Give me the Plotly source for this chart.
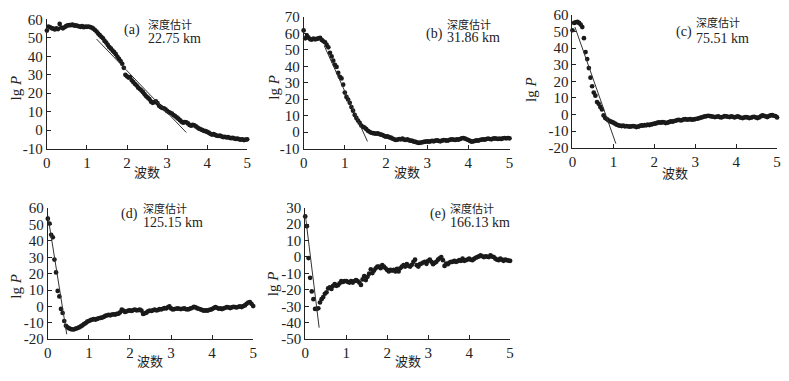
import numpy as np
import plotly.graph_objects as go

# wavenumber grid shared by all panels (step 0.04, 0..5)
wavenumber = np.round(np.arange(126) * 0.04, 2)

# lg P values
lgp_a = [54.0, 56.2, 55.8, 55.3, 55.0, 54.6, 55.2, 54.8, 57.6, 55.6, 55.2, 55.8, 56.4, 56.8, 57.0, 56.9, 57.2, 56.7, 56.8, 56.5, 56.3, 56.0, 56.4, 55.8, 56.1,
         56.0, 56.2, 55.9, 55.6, 55.0, 54.3, 53.5, 52.4, 51.5, 50.6, 49.8, 48.4, 47.5, 46.2, 45.0, 44.2, 43.1, 42.3, 41.2, 39.8, 38.6, 37.5, 36.0, 33.8, 30.0,
         29.2, 28.5, 28.8, 27.0, 26.0, 25.0, 24.2, 23.0, 22.3, 21.5, 20.6, 19.4, 18.3, 17.6, 16.8, 15.4, 14.8, 15.2, 15.6, 14.6, 13.2, 12.6, 12.0, 11.8, 11.2,
         10.4, 9.8, 9.4, 9.0, 8.2, 7.6, 6.9, 6.2, 5.4, 4.6, 4.0, 4.4, 4.2, 3.6, 2.8, 2.4, 2.8, 2.6, 2.0, 1.4, 0.8, 0.4, 0.0, -0.4, -0.6,
         -1.0, -1.4, -2.0, -2.4, -2.2, -2.6, -3.0, -3.2, -3.0, -3.4, -3.8, -3.6, -4.0, -3.8, -4.2, -4.4, -4.2, -4.6, -4.8, -4.6, -5.0, -5.2, -5.0, -5.4, -5.2,
         -5.0]
lgp_b = [61.8, 57.0, 58.6, 57.4, 56.4, 56.2, 56.8, 56.4, 56.6, 56.9, 57.2, 56.0, 55.2, 54.6, 53.0, 51.5, 48.2, 46.0, 43.4, 40.8, 39.6, 36.0, 33.6, 32.6, 28.8,
         24.0, 21.4, 19.8, 17.8, 15.2, 13.0, 10.4, 8.6, 7.0, 5.6, 4.0, 3.2, 2.8, 1.8, 0.8, 0.2, -0.4, -0.6, -0.8, -1.0, -0.8, -1.2, -1.6, -1.8, -2.4,
         -2.8, -2.6, -3.2, -3.4, -4.0, -4.4, -4.8, -4.6, -4.2, -4.4, -4.0, -4.6, -4.8, -4.4, -5.0, -5.2, -5.4, -5.8, -6.0, -6.4, -6.6, -6.4, -6.2, -6.0, -5.8,
         -5.6, -5.8, -5.6, -5.4, -5.6, -5.2, -5.0, -5.4, -5.6, -5.2, -4.8, -5.0, -5.2, -5.0, -4.6, -4.4, -4.6, -4.8, -4.4, -4.6, -4.2, -3.8, -3.6, -4.0, -4.4,
         -4.8, -5.4, -5.8, -5.6, -5.4, -5.0, -5.2, -4.8, -4.6, -4.4, -4.6, -4.2, -4.0, -4.2, -4.4, -4.0, -3.8, -4.0, -4.2, -4.0, -4.2, -3.8, -3.6, -3.8, -3.6,
         -3.8]
lgp_c = [50.8, 55.2, 55.6, 55.8, 55.2, 54.2, 52.7, 46.0, 37.6, 33.4, 28.0, 22.2, 17.0, 13.2, 11.3, 7.5, 6.4, 4.5, 3.0, -0.6, -2.2, -2.8, -3.6, -4.2, -4.5,
         -5.0, -5.6, -6.2, -6.6, -6.8, -7.0, -6.8, -7.2, -7.0, -7.2, -7.4, -7.2, -7.0, -7.2, -7.6, -7.4, -7.0, -6.6, -6.8, -6.4, -6.6, -6.2, -6.4, -6.0, -5.8,
         -5.6, -5.4, -5.0, -4.8, -5.0, -4.6, -4.8, -5.2, -5.0, -4.6, -4.2, -4.4, -4.0, -3.8, -3.4, -3.2, -3.6, -3.4, -3.0, -2.8, -3.2, -3.0, -2.8, -3.2, -3.0,
         -2.8, -2.6, -2.4, -2.0, -1.8, -1.4, -1.2, -1.0, -0.8, -1.0, -1.2, -1.4, -1.6, -1.4, -1.2, -1.6, -1.8, -1.4, -1.0, -1.2, -1.4, -1.6, -1.2, -1.4, -1.8,
         -1.4, -1.2, -1.6, -2.0, -2.2, -1.8, -1.6, -1.8, -2.2, -2.0, -1.6, -1.4, -1.8, -2.2, -1.8, -1.2, -0.6, -0.8, -1.2, -1.6, -1.0, -0.6, -0.4, -0.8, -1.0,
         -1.8]
lgp_d = [53.6, 50.6, 43.8, 42.2, 28.6, 20.8, 9.5, 6.1, -1.5, -4.0, -8.9, -11.8, -12.8, -13.4, -13.8, -14.1, -14.0, -13.6, -13.2, -12.8, -12.2, -11.6, -10.8, -10.2, -9.3,
         -8.9, -8.4, -8.0, -7.8, -8.0, -7.6, -7.2, -7.0, -6.8, -6.4, -5.8, -5.4, -5.2, -5.4, -5.0, -4.8, -5.0, -4.6, -4.4, -3.6, -2.0, -2.6, -3.4, -3.0, -2.6,
         -2.4, -2.8, -2.2, -2.0, -2.4, -2.2, -2.0, -2.6, -4.6, -4.2, -3.8, -3.0, -2.6, -2.8, -2.4, -2.0, -2.4, -2.2, -1.6, -1.8, -1.4, -1.0, -1.2, -0.6, 0.0,
         -1.2, -1.8, -1.6, -1.4, -1.2, -1.4, -1.6, -1.4, -1.2, -1.6, -1.8, -1.6, -1.2, -0.8, -0.2, -0.6, -1.2, -1.4, -1.8, -2.2, -2.6, -2.4, -2.6, -2.2, -2.0,
         -1.6, -1.0, -0.4, -0.8, -1.4, -1.2, -1.6, -1.2, -0.8, -0.4, -0.6, -1.0, -0.6, -0.2, -0.4, -0.6, -0.2, 0.0, -0.4, 0.2, 0.6, 1.6, 2.4, 2.6, 1.6,
         0.2]
lgp_e = [24.6, 18.7, -0.7, -12.7, -21.0, -25.7, -31.6, -31.6, -31.2, -27.7, -25.7, -24.4, -22.4, -21.5, -19.1, -18.5, -19.5, -17.6, -16.6, -17.6, -17.2, -16.0, -14.7, -15.2, -14.7,
         -14.7, -15.2, -15.6, -14.7, -15.6, -14.7, -14.1, -14.7, -15.6, -17.0, -13.7, -11.7, -14.1, -12.1, -10.2, -7.5, -9.8, -8.3, -6.9, -5.9, -5.9, -6.9, -5.0, -5.9, -6.9,
         -7.9, -8.8, -7.9, -8.3, -7.9, -8.8, -7.2, -8.8, -6.9, -5.9, -5.0, -5.9, -4.4, -5.4, -5.9, -4.8, -3.0, -1.7, -5.0, -5.9, -4.4, -4.0, -3.4, -3.0, -4.2,
         -2.4, -1.7, -3.0, -4.4, -3.6, -3.0, -1.7, -0.8, -0.1, -2.0, -5.5, -4.0, -4.4, -3.4, -3.0, -3.0, -2.4, -3.0, -2.6, -2.0, -2.4, -1.1, -2.4, -2.0, -1.6,
         -1.1, -1.7, -2.0, -1.2, -0.5, -0.1, 0.3, 0.9, 0.4, -0.1, 0.3, 0.2, -0.1, 0.9, 0.2, -0.1, -1.1, -1.7, -2.0, -1.1, -1.7, -2.4, -1.7, -2.0, -2.2,
         -2.4]

# fitted straight lines (end points)
fit_x = {'a': [1.24, 3.48], 'b': [0.50, 1.55], 'c': [0.06, 1.06], 'd': [0.0, 0.46], 'e': [0.0, 0.34]}
fit_y = {'a': [49.4, -1.3], 'b': [52.5, -5.7], 'c': [52.7, -17.6], 'd': [55.5, -17.0], 'e': [26.0, -43.0]}

panel_ids = ['a', 'b', 'c', 'd', 'e']
depths = ['22.75 km', '31.86 km', '75.51 km', '125.15 km', '166.13 km']
y_ranges = [(-10, 60), (-10, 70), (-20, 60), (-20, 60), (-50, 30)]
x_ticks = [0, 1, 2, 3, 4, 5]
series = [lgp_a, lgp_b, lgp_c, lgp_d, lgp_e]

W, H = 789, 381
FONT = 'Liberation Serif, Noto Sans CJK SC, serif'
INK = '#222222'

# plot boxes in pixels: left, right, top, bottom
boxes = [(43.3, 245.7, 12.0, 146.7),
         (302.7, 510.7, 9.3, 146.7),
         (574.3, 781.0, 7.3, 145.7),
         (44.3, 251.7, 209.0, 345.7),
         (304.3, 511.3, 208.3, 345.7)]
# label positions in pixels: (tag x, tag y, text x, cn y, km y, ytitle x, ytitle y, xtitle y)
labels = [(129, 23, 144, 17, 32, 12, 83, 172),
          (435, 27, 447, 17, 31, 272, 83, 172),
          (687, 25, 698, 15, 32, 533, 85, 173),
          (127, 215, 139, 209, 224, 12, 290, 369),
          (438, 215, 450, 209, 224, 272, 288, 369)]

fig = go.Figure()
annotations = []

def px(x):
    return x / W

def py(y):
    return 1 - y / H

for i, pid in enumerate(panel_ids):
    n = '' if i == 0 else str(i + 1)
    l, r, t, b = boxes[i]
    lo, hi = y_ranges[i]
    yticks = list(range(lo, hi + 1, 10))

    fig.add_trace(go.Scatter(
        x=wavenumber, y=series[i], mode='markers',
        marker=dict(size=4.7, color='#1a1a1a'),
        xaxis='x' + n, yaxis='y' + n, showlegend=False, cliponaxis=False
    ))
    fig.add_trace(go.Scatter(
        x=fit_x[pid], y=fit_y[pid], mode='lines',
        line=dict(color='#333333', width=1),
        xaxis='x' + n, yaxis='y' + n, showlegend=False
    ))

    axis_common = dict(showline=True, linecolor=INK, linewidth=1, ticks='inside',
                       ticklen=4, tickcolor=INK, showgrid=False, zeroline=False,
                       ticklabeloverflow='allow',
                       tickfont=dict(family=FONT, size=15, color=INK))
    fig.update_layout(**{
        'xaxis' + n: dict(domain=[px(l), px(r)], range=[0, 5.0], anchor='y' + n,
                          tickvals=x_ticks, ticktext=[str(v) for v in x_ticks], **axis_common),
        'yaxis' + n: dict(domain=[py(b), py(t)], range=[lo, hi], anchor='x' + n,
                          tickvals=yticks, ticktext=[str(v) for v in yticks],
                          **axis_common),
    })

    tx, ty, lx, cy, ky, yx, yy, xy = labels[i]
    annotations += [
        dict(text='(' + pid + ')', x=px(tx), y=py(ty), xanchor='center', yanchor='middle',
             font=dict(size=14)),
        dict(text='深度估计', x=px(lx), y=py(cy), xanchor='left', yanchor='middle',
             font=dict(size=11)),
        dict(text=depths[i], x=px(lx), y=py(ky), xanchor='left', yanchor='middle',
             font=dict(size=14)),
        dict(text='lg <i>P</i>', x=px(yx), y=py(yy), xanchor='center', yanchor='middle',
             textangle=-90, font=dict(size=15)),
        dict(text='波数', x=px((l + r) / 2), y=py(xy), xanchor='center', yanchor='middle',
             font=dict(size=13)),
    ]

for a in annotations:
    a.update(xref='paper', yref='paper', showarrow=False, borderpad=0)
    a['font'].update(family=FONT, color=INK)

fig.update_layout(
    width=W, height=H,
    margin=dict(l=0, r=0, t=0, b=0),
    paper_bgcolor='white', plot_bgcolor='white',
    annotations=annotations
)

# the default page has an 8px body margin; drop it so the figure sits at the corner
fig.write_html("out.html", config={'displayModeBar': False},
               post_script="document.body.style.margin='0';")
